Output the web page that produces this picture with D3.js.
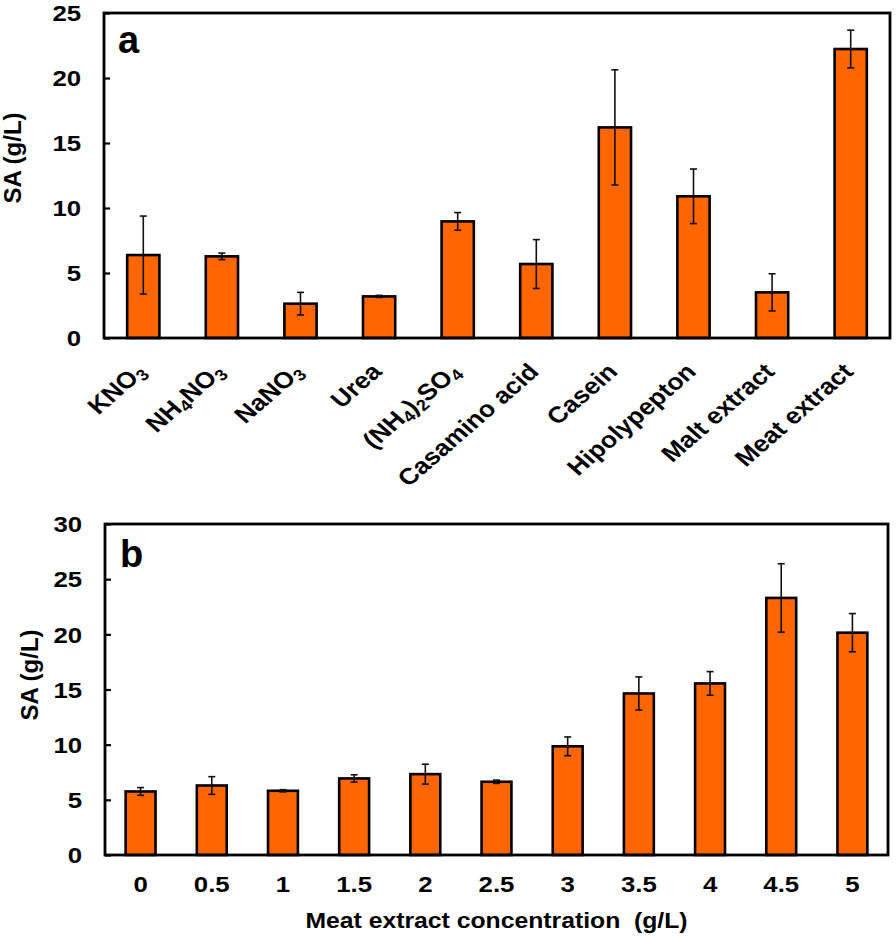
<!DOCTYPE html>
<html>
<head>
<meta charset="utf-8">
<script src="https://cdn.jsdelivr.net/npm/d3@7"></script>
<style>
  html, body { margin: 0; padding: 0; background: #fff; }
  svg { display: block; }
  text { font-family: "Liberation Sans", Arial, Helvetica, sans-serif; font-weight: bold; fill: #000; }
</style>
</head>
<body>
<svg id="chart" width="896" height="939"></svg>
<script>
// ---------------- DATA ----------------
const catsA = ["KNO3", "NH4NO3", "NaNO3", "Urea", "(NH4)2SO4", "Casamino acid", "Casein", "Hipolypepton", "Malt extract", "Meat extract"];
const valuesA = [6.38, 6.28, 2.64, 3.20, 8.97, 5.69, 16.2, 10.9, 3.51, 22.23];
const errorsA = [3.0, 0.25, 0.87, 0.08, 0.68, 1.88, 4.43, 2.1, 1.43, 1.45];
const ticksA = [0, 5, 10, 15, 20, 25];

const catsB = ["0", "0.5", "1", "1.5", "2", "2.5", "3", "3.5", "4", "4.5", "5"];
const valuesB = [5.76, 6.30, 5.82, 6.94, 7.33, 6.64, 9.85, 14.64, 15.55, 23.30, 20.15];
const errorsB = [0.35, 0.8, 0.1, 0.33, 0.9, 0.15, 0.85, 1.5, 1.07, 3.1, 1.73];
const ticksB = [0, 5, 10, 15, 20, 25, 30];

const yTitle = "SA (g/L)";
const xTitleB = "Meat extract concentration  (g/L)";

// ---------------- STYLE ----------------
const barFill = "#FF6600";
const tickFont = 21.5, tickStretch = 1.2;

const svg = d3.select("#chart");

function panel(cfg) {
  const g = svg.append("g");
  const x = d3.scaleBand().domain(cfg.cats).range([cfg.left, cfg.right])
    .paddingInner(cfg.pad).paddingOuter(cfg.pad / 2);
  const y = d3.scaleLinear().domain([0, cfg.ymax]).range([cfg.bottom, cfg.top]);
  const data = cfg.cats.map((c, i) => ({ c, v: cfg.values[i], e: cfg.errors[i] }));

  // bars
  g.selectAll("rect.bar").data(data).join("rect")
    .attr("class", "bar")
    .attr("x", d => x(d.c))
    .attr("width", x.bandwidth())
    .attr("y", d => y(d.v))
    .attr("height", d => y(0) - y(d.v))
    .attr("fill", barFill)
    .attr("stroke", "#000")
    .attr("stroke-width", 2.6);

  // error bars
  const eb = g.selectAll("g.err").data(data).join("g").attr("class", "err")
    .attr("stroke", "#111").attr("stroke-width", 1.6);
  const cx = d => x(d.c) + x.bandwidth() / 2;
  eb.append("line").attr("x1", cx).attr("x2", cx)
    .attr("y1", d => y(d.v + d.e)).attr("y2", d => y(d.v - d.e));
  eb.append("line").attr("x1", d => cx(d) - 3.5).attr("x2", d => cx(d) + 3.5)
    .attr("y1", d => y(d.v + d.e)).attr("y2", d => y(d.v + d.e));
  eb.append("line").attr("x1", d => cx(d) - 3.5).attr("x2", d => cx(d) + 3.5)
    .attr("y1", d => y(d.v - d.e)).attr("y2", d => y(d.v - d.e));

  // y axis with inward ticks
  const ya = g.append("g").attr("transform", `translate(${cfg.left},0)`)
    .call(d3.axisLeft(y).tickValues(cfg.ticks).tickSizeInner(-6).tickSizeOuter(0).tickPadding(19));
  ya.select(".domain").remove();
  ya.selectAll(".tick line").attr("stroke", "#000").attr("stroke-width", 2.2);
  ya.selectAll(".tick text")
    .attr("font-size", tickFont)
    .attr("font-family", null)
    .attr("dy", "0.36em")
    .attr("transform", `scale(${tickStretch},1)`);

  // frame
  g.append("rect")
    .attr("x", cfg.left).attr("y", cfg.top)
    .attr("width", cfg.right - cfg.left).attr("height", cfg.bottom - cfg.top)
    .attr("fill", "none").attr("stroke", "#000").attr("stroke-width", 2.8);

  // panel letter
  g.append("text").attr("x", cfg.letterX).attr("y", cfg.letterY)
    .attr("font-size", 38).text(cfg.letter);

  // y title
  g.append("text")
    .attr("transform", `translate(${cfg.yTitleX},${cfg.yTitleY}) rotate(-90)`)
    .attr("text-anchor", "middle")
    .attr("font-size", 24)
    .text(yTitle);

  return { g, x, y };
}

// ---------------- PANEL A ----------------
const A = panel({
  cats: catsA, values: valuesA, errors: errorsA, ticks: ticksA,
  left: 104, right: 890, top: 13, bottom: 338, ymax: 25, pad: 0.59,
  letter: "a", letterX: 118, letterY: 53,
  yTitleX: 21, yTitleY: 158
});

// rotated category labels with subscripted digits
const labA = A.g.selectAll("text.cat").data(catsA).join("text")
  .attr("class", "cat")
  .attr("text-anchor", "end")
  .attr("font-size", 23)
  .attr("transform", c => `translate(${A.x(c) + A.x.bandwidth() / 2 + 4},373) scale(1.15,1) rotate(-45)`);
labA.each(function (c) {
  const t = d3.select(this);
  const parts = c.match(/(\d+|[^\d]+)/g);
  let shifted = false;
  parts.forEach(p => {
    if (/^\d+$/.test(p)) {
      t.append("tspan").attr("font-size", 16).attr("dy", 4).text(p);
      shifted = true;
    } else {
      const ts = t.append("tspan").text(p);
      if (shifted) { ts.attr("dy", -4); shifted = false; }
    }
  });
});

// ---------------- PANEL B ----------------
const B = panel({
  cats: catsB, values: valuesB, errors: errorsB, ticks: ticksB,
  left: 105, right: 888, top: 524, bottom: 855, ymax: 30, pad: 0.58,
  letter: "b", letterX: 120, letterY: 567,
  yTitleX: 38, yTitleY: 675
});

// x axis labels (horizontally stretched text, like the reference)
const xa = B.g.append("g").attr("transform", `translate(0,855) scale(${tickStretch},1)`)
  .call(d3.axisBottom(B.x).tickSize(0).tickPadding(22));
xa.select(".domain").remove();
xa.selectAll(".tick")
  .attr("transform", d => `translate(${(B.x(d) + B.x.bandwidth() / 2) / tickStretch},0)`);
xa.selectAll(".tick text")
  .attr("font-size", tickFont)
  .attr("font-family", null);

B.g.append("text")
  .attr("transform", `translate(${(105 + 888) / 2},928) scale(1.1,1)`)
  .attr("text-anchor", "middle")
  .attr("font-size", 22.5)
  .style("white-space", "pre")
  .text(xTitleB);
</script>
</body>
</html>
